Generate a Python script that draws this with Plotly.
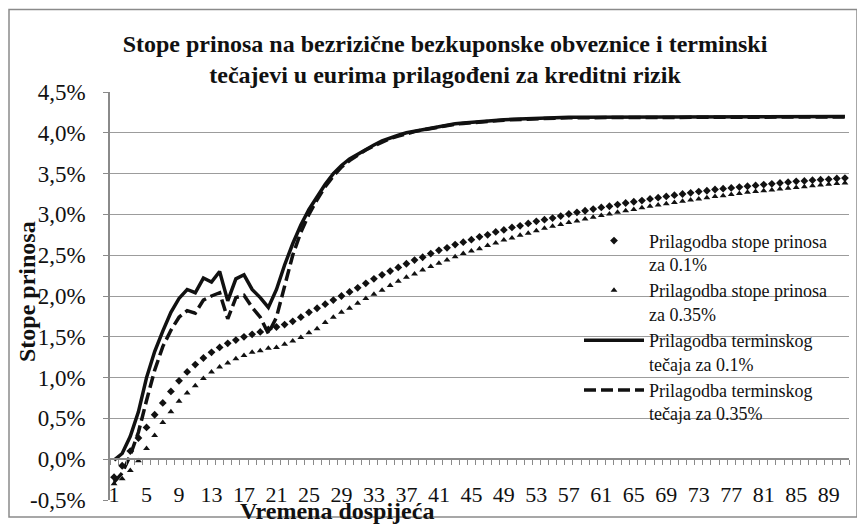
import plotly.graph_objects as go

# maturities (years) on the category axis
maturities = list(range(1, 92))

# yield adjustment 0.1% (diamonds), in %
yield_01 = [
    -0.22, -0.08, 0.10, 0.26, 0.39, 0.545, 0.69, 0.83, 0.96, 1.07,
    1.16, 1.24, 1.31, 1.37, 1.42, 1.46, 1.50, 1.53, 1.56, 1.59,
    1.62, 1.65, 1.69, 1.74, 1.80, 1.85, 1.90, 1.95, 2.00, 2.05,
    2.10, 2.155, 2.21, 2.26, 2.305, 2.35, 2.395, 2.44, 2.475, 2.52,
    2.56, 2.59, 2.63, 2.66, 2.69, 2.725, 2.75, 2.785, 2.81, 2.84,
    2.86, 2.89, 2.915, 2.935, 2.955, 2.98, 3.005, 3.025, 3.045, 3.065,
    3.085, 3.10, 3.12, 3.14, 3.155, 3.17, 3.19, 3.205, 3.22, 3.235,
    3.25, 3.265, 3.28, 3.29, 3.305, 3.315, 3.325, 3.335, 3.345, 3.355,
    3.365, 3.375, 3.385, 3.395, 3.405, 3.41, 3.42, 3.425, 3.43, 3.44,
    3.445,
]

# yield adjustment 0.35% (triangles), in %
yield_035 = [
    -0.30, -0.24, -0.14, -0.02, 0.13, 0.29, 0.45, 0.58, 0.71, 0.81,
    0.90, 0.99, 1.07, 1.13, 1.18, 1.23, 1.27, 1.31, 1.33, 1.36,
    1.37, 1.41, 1.45, 1.49, 1.55, 1.60, 1.675, 1.74, 1.80, 1.85,
    1.91, 1.97, 2.02, 2.07, 2.13, 2.18, 2.23, 2.27, 2.32, 2.36,
    2.40, 2.44, 2.48, 2.52, 2.55, 2.58, 2.62, 2.65, 2.685, 2.71,
    2.745, 2.77, 2.80, 2.83, 2.855, 2.875, 2.90, 2.92, 2.945, 2.965,
    2.985, 3.005, 3.025, 3.045, 3.06, 3.08, 3.10, 3.115, 3.13, 3.145,
    3.16, 3.175, 3.19, 3.205, 3.22, 3.23, 3.245, 3.255, 3.27, 3.28,
    3.29, 3.30, 3.31, 3.32, 3.33, 3.34, 3.35, 3.36, 3.37, 3.38,
    3.385,
]

# forward rate adjustment 0.1% (solid), in %
forward_01 = [
    -0.01, 0.07, 0.28, 0.58, 1.00, 1.32, 1.57, 1.80, 1.97, 2.08,
    2.04, 2.22, 2.17, 2.30, 1.94, 2.21, 2.26, 2.08, 1.98, 1.86,
    2.08, 2.38, 2.64, 2.87, 3.06, 3.22, 3.37, 3.50, 3.60, 3.68,
    3.74, 3.80, 3.85, 3.90, 3.94, 3.97, 4.00, 4.02, 4.04, 4.06,
    4.08, 4.095, 4.11, 4.12, 4.13, 4.14, 4.15, 4.155, 4.16, 4.165,
    4.17, 4.175, 4.18, 4.18, 4.185, 4.185, 4.19, 4.19, 4.19, 4.19,
    4.195, 4.195, 4.195, 4.195, 4.195, 4.195, 4.2, 4.2, 4.2, 4.2,
    4.2, 4.2, 4.2, 4.2, 4.2, 4.2, 4.2, 4.2, 4.2, 4.2,
    4.2, 4.2, 4.2, 4.2, 4.2, 4.2, 4.2, 4.2, 4.2, 4.2,
    4.2,
]

# forward rate adjustment 0.35% (dashed), in %
forward_035 = [
    -0.28, -0.17, 0.05, 0.33, 0.72, 1.09, 1.38, 1.58, 1.74, 1.82,
    1.79, 1.95, 2.00, 2.04, 1.72, 1.98, 2.01, 1.86, 1.74, 1.54,
    1.74, 2.14, 2.50, 2.78, 3.00, 3.18, 3.34, 3.47, 3.58, 3.66,
    3.73, 3.79, 3.84, 3.89, 3.93, 3.96, 3.99, 4.015, 4.035, 4.055,
    4.075, 4.09, 4.105, 4.115, 4.125, 4.135, 4.145, 4.15, 4.155, 4.16,
    4.165, 4.17, 4.175, 4.175, 4.18, 4.18, 4.185, 4.185, 4.185, 4.185,
    4.19, 4.19, 4.19, 4.19, 4.19, 4.19, 4.195, 4.195, 4.195, 4.195,
    4.195, 4.195, 4.195, 4.195, 4.195, 4.195, 4.195, 4.195, 4.195, 4.195,
    4.195, 4.195, 4.195, 4.195, 4.195, 4.195, 4.195, 4.195, 4.195, 4.195,
    4.195,
]

series_names = [
    "Prilagodba stope prinosa<br>za 0.1%",
    "Prilagodba stope prinosa<br>za 0.35%",
    "Prilagodba terminskog<br>tečaja za 0.1%",
    "Prilagodba terminskog<br>tečaja za 0.35%",
]

x_tick_vals = [1, 5, 9, 13, 17, 21, 25, 29, 33, 37, 41, 45, 49, 53, 57, 61, 65, 69, 73, 77, 81, 85, 89]
y_tick_vals = [-0.5, 0.0, 0.5, 1.0, 1.5, 2.0, 2.5, 3.0, 3.5, 4.0, 4.5]
y_tick_text = ["-0,5%", "0,0%", "0,5%", "1,0%", "1,5%", "2,0%", "2,5%", "3,0%", "3,5%", "4,0%", "4,5%"]

FONT = "Liberation Serif"
INK = "#111111"
GRID = "#9c9c9c"
AXIS = "#8a8a8a"

# the page body adds an 8px margin, so the figure is laid out 8px smaller
W, H = 857, 517
L, T, PW, PH = 102, 84, 739, 410   # plot area in figure pixels


def px(x):
    return (x - L) / PW


def py(y):
    return (T + PH - y) / PH


fig = go.Figure()
fig.add_trace(go.Scatter(x=maturities, y=yield_01, mode="markers", name=series_names[0],
                         marker=dict(symbol="diamond", size=6, color=INK)))
fig.add_trace(go.Scatter(x=maturities, y=yield_035, mode="markers", name=series_names[1],
                         marker=dict(symbol="triangle-up", size=6, color=INK)))
fig.add_trace(go.Scatter(x=maturities, y=forward_01, mode="lines", name=series_names[2],
                         line=dict(color=INK, width=3.5)))
fig.add_trace(go.Scatter(x=maturities, y=forward_035, mode="lines", name=series_names[3],
                         line=dict(color=INK, width=3.5, dash="12px,5px")))
# empty trace so the zero-crossing axis (x2) gets drawn
fig.add_trace(go.Scatter(x=[], y=[], xaxis="x2", showlegend=False, hoverinfo="skip"))

fig.update_layout(
    width=W, height=H,
    margin=dict(l=L, r=W - L - PW, t=T, b=H - T - PH),
    paper_bgcolor="white", plot_bgcolor="white",
    font=dict(family=FONT, color=INK, size=22),
    showlegend=True,
    title=dict(
        text="Stope prinosa na bezrizične bezkuponske obveznice i terminski<br>"
             "tečajevi u eurima prilagođeni za kreditni rizik",
        font=dict(family=FONT, size=24, color=INK, weight="bold"),
        x=437 / W, xref="container", xanchor="center",
        y=1 - 44 / H, yref="container", yanchor="middle",
    ),
    xaxis=dict(
        range=[0.5, 91.5], tickmode="array", tickvals=x_tick_vals,
        anchor="free", position=0.052, showline=False, showgrid=False,
        zeroline=False, ticks="", tickfont=dict(family=FONT, size=22, color=INK),
    ),
    xaxis2=dict(
        overlaying="x", matches="x", range=[0.5, 91.5],
        anchor="free", position=0.1, showline=True, linecolor=AXIS, linewidth=1.5,
        tickmode="linear", tick0=0.5, dtick=1, ticks="outside", ticklen=5,
        tickcolor=AXIS, tickwidth=1, showticklabels=False, showgrid=False, zeroline=False,
    ),
    yaxis=dict(
        range=[-0.5, 4.5], tickmode="array", tickvals=y_tick_vals, ticktext=y_tick_text,
        showgrid=True, gridcolor=GRID, gridwidth=1.3, zeroline=False,
        showline=True, linecolor=AXIS, linewidth=1.5,
        ticks="outside", ticklen=5, tickcolor=AXIS, ticklabelstandoff=13,
        tickfont=dict(family=FONT, size=23, color=INK),
    ),
    legend=dict(
        x=px(571), y=py(215), xanchor="left", yanchor="top",
        bgcolor="rgba(0,0,0,0)", font=dict(family=FONT, size=18, color=INK),
        itemwidth=60, valign="top", traceorder="normal",
    ),
    annotations=[
        dict(text="Vremena dospijeća", xref="paper", yref="paper",
             x=px(329), y=py(505), showarrow=False,
             xanchor="center", yanchor="middle",
             font=dict(family=FONT, size=24, color=INK, weight="bold")),
        dict(text="Stope prinosa", xref="paper", yref="paper", textangle=-90,
             x=px(19), y=py(285), showarrow=False,
             xanchor="center", yanchor="middle",
             font=dict(family=FONT, size=24, color=INK, weight="bold")),
    ],
    shapes=[
        dict(type="rect", xref="paper", yref="paper",
             x0=px(1), x1=px(849), y0=py(511), y1=py(1),
             line=dict(color=AXIS, width=1.5), fillcolor="rgba(0,0,0,0)", layer="below"),
    ],
)

fig.write_html("out.html")
